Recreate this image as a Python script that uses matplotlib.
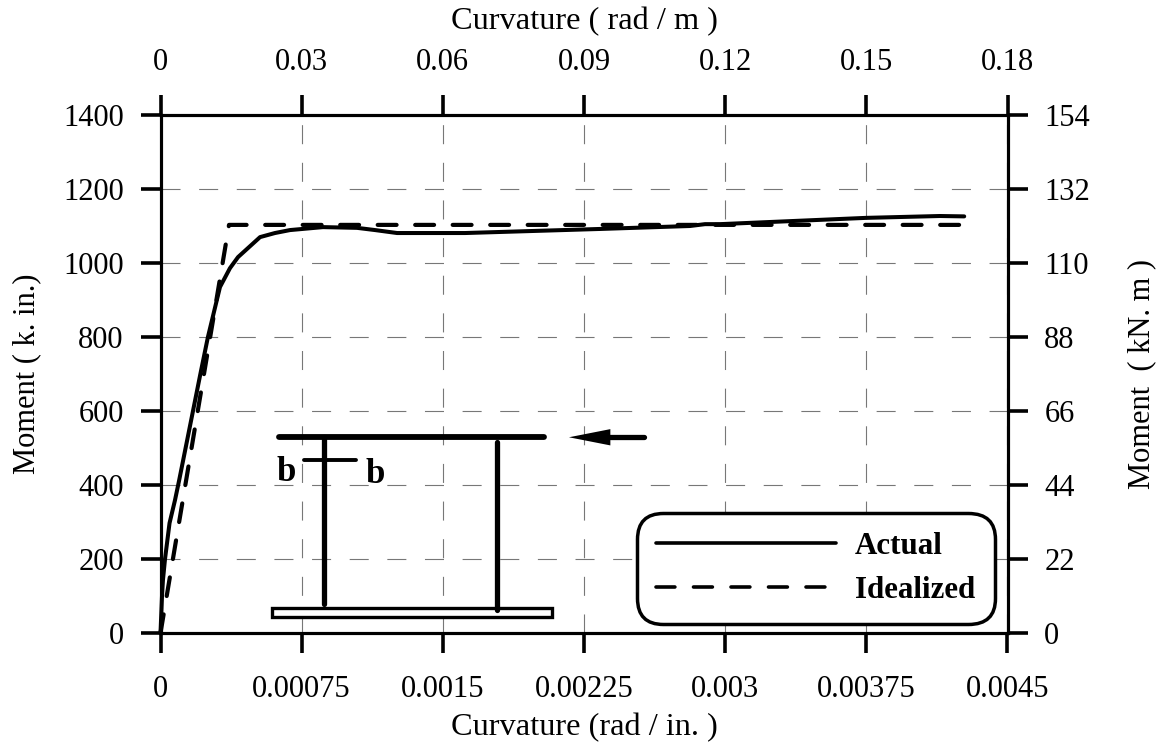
# moment-curvature curve, actual vs idealized
import matplotlib

matplotlib.use("Agg")
import matplotlib.pyplot as plt

plt.rcParams["font.family"] = ["Liberation Serif", "DejaVu Serif"]
plt.rcParams["lines.scale_dashes"] = False

# bottom axis is rad/in., left axis is k.in.
actual_x = [0, 0.000008, 0.000013, 0.000024, 0.000048, 0.000077, 0.0001, 0.000213, 0.000252, 0.000316,
            0.000369, 0.000412, 0.000529, 0.000608, 0.000688, 0.000863, 0.001044,
            0.00114, 0.001257, 0.001618, 0.002335, 0.002813, 0.002893, 0.002973,
            0.00375, 0.00414, 0.00427]
actual_y = [0, 100, 143, 200, 297, 359, 415, 703, 800, 935,
            986, 1016, 1070, 1081, 1089, 1097, 1095,
            1089, 1081, 1081, 1092, 1100, 1105, 1105,
            1122, 1127, 1126]
ideal_x = [0, 0.000364, 0.00427]
ideal_y = [0, 1103, 1103]

x_ticks = [0, 0.00075, 0.0015, 0.00225, 0.003, 0.00375, 0.0045]
x_labels = ["0", "0.00075", "0.0015", "0.00225", "0.003", "0.00375", "0.0045"]
y_ticks = [0, 200, 400, 600, 800, 1000, 1200, 1400]
top_ticks = [0, 0.03, 0.06, 0.09, 0.12, 0.15, 0.18]
top_labels = ["0", "0.03", "0.06", "0.09", "0.12", "0.15", "0.18"]
right_ticks = [0, 22, 44, 66, 88, 110, 132, 154]

# little frame sketch, same units as the main axes
beam_x = [0.00063, 0.00204]
beam_y = [529, 529]
col1_x = [0.00087, 0.00087]
col1_y = [529, 78]
col2_x = [0.00179, 0.00179]
col2_y = [516, 62]
base_x = [0.00059, 0.00208]
base_y = [43, 68]
cut_x = [0.00076, 0.00104]
cut_y = [467, 467]
arrow_tail_x = [0.00257, 0.00233]
arrow_y = [529, 529]
arrow_head_x = [0.00217, 0.00239, 0.00239]
arrow_head_y = [529, 551, 507]

FS = 22
BLACK = "black"
dash = (0, (13.6, 13.4))
grid_dash = (0, (13.7, 13.4))

fig = plt.figure(figsize=(11.62, 7.46), dpi=100)
ax = fig.add_axes([160.5 / 1162, 113 / 746, 847 / 1162, 518 / 746])
ax.set_xlim(0, 0.0045)
ax.set_ylim(0, 1400)
ax.set_xticks(x_ticks)
ax.set_xticklabels(x_labels)
ax.set_yticks(y_ticks)
ax.grid(True, color="#777777", lw=0.8, linestyle=grid_dash)
ax.set_axisbelow(True)

ax.plot(actual_x, actual_y, color=BLACK, lw=2.9, solid_capstyle="round",
        clip_on=False, zorder=4, label="Actual")
ax.plot(ideal_x, ideal_y, color=BLACK, lw=3.0, linestyle=dash,
        dash_capstyle="round", clip_on=False, zorder=4, label="Idealized")

# sketch
ax.fill([base_x[0], base_x[1], base_x[1], base_x[0]],
        [base_y[0], base_y[0], base_y[1], base_y[1]],
        facecolor="white", edgecolor=BLACK, lw=2.4, zorder=3)
ax.plot(beam_x, beam_y, color=BLACK, lw=4.2, solid_capstyle="round", zorder=3)
ax.plot(col1_x, col1_y, color=BLACK, lw=3.8, solid_capstyle="round", zorder=3)
ax.plot(col2_x, col2_y, color=BLACK, lw=3.8, solid_capstyle="round", zorder=3)
ax.plot(cut_x, cut_y, color=BLACK, lw=2.8, solid_capstyle="round", zorder=3)
ax.plot(arrow_tail_x, arrow_y, color=BLACK, lw=3.8, solid_capstyle="round", zorder=3)
ax.fill(arrow_head_x, arrow_head_y, color=BLACK, lw=0, zorder=3)
ax.text(0.00067, 410, "b", fontsize=25, fontweight="bold", ha="center", va="baseline")
ax.text(0.00114, 405, "b", fontsize=25, fontweight="bold", ha="center", va="baseline")

leg = ax.legend(loc="lower left", bbox_to_anchor=(0.5626, 0.0174), borderaxespad=0,
                prop={"weight": "bold", "size": 22.3}, handlelength=5.82, handletextpad=0.6,
                labelspacing=0.48, borderpad=0.62, fancybox=True, framealpha=1,
                edgecolor=BLACK)
leg.get_frame().set_boxstyle("round", pad=0, rounding_size=0.85)
leg.get_frame().set_linewidth(2.5)
leg.set_zorder(6)
for h in leg.get_lines():
    h.set_linewidth(2.6)

ax.set_xlabel("Curvature (rad / in. )", fontsize=23.3, labelpad=6.5)
ax.set_ylabel("Moment ( k. in.)", fontsize=FS, labelpad=16)

ax_top = ax.twiny()
ax_top.set_xlim(0, 0.18)
ax_top.set_xticks(top_ticks)
ax_top.set_xticklabels(top_labels)
ax_top.set_xlabel("Curvature ( rad / m )", fontsize=23.3, labelpad=13.5)

ax_right = ax.twinx()
ax_right.set_ylim(0, 154)
ax_right.set_yticks(right_ticks)
ax_right.set_ylabel("Moment  ( kN. m )", fontsize=FS, labelpad=27)

for a in (ax, ax_top, ax_right):
    a.tick_params(axis="both", length=14.5, width=2.6, labelsize=FS, pad=12, direction="out")
    for s in a.spines.values():
        s.set_linewidth(2.2)

ax.tick_params(axis="x", pad=15.5)
ax_top.tick_params(axis="x", pad=13)

fig.savefig("out.png", dpi=100)
plt.close(fig)
